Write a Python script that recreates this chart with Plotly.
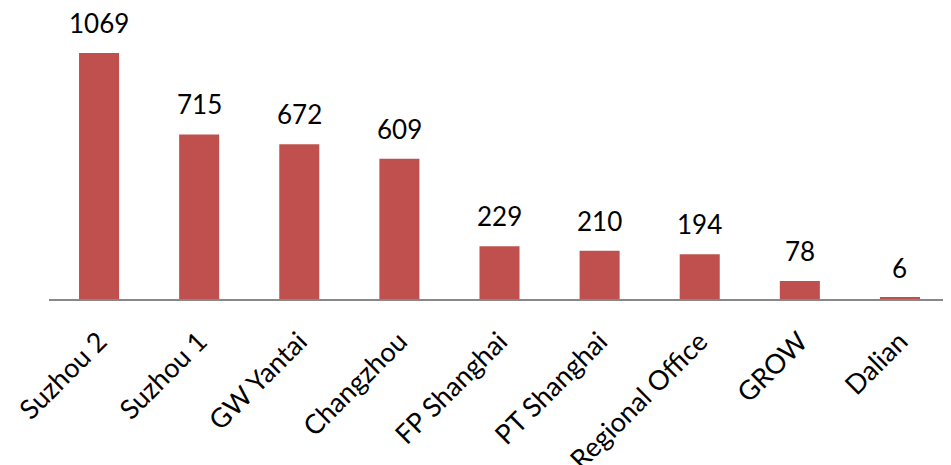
import plotly.graph_objects as go

categories = ["Suzhou 2", "Suzhou 1", "GW Yantai", "Changzhou", "FP Shanghai",
              "PT Shanghai", "Regional Office", "GROW", "Dalian"]
values = [1069, 715, 672, 609, 229, 210, 194, 78, 6]

FONT = "Lato"
fig = go.Figure()
fig.add_trace(go.Bar(x=categories, y=values, marker_color="#C0504D",
                     marker_line_width=0, width=0.4, hoverinfo="x+y"))
for c, v in zip(categories, values):
    fig.add_annotation(x=c, y=v, text=str(v), showarrow=False, yshift=30,
                       font=dict(family=FONT, size=26, color="black"))

# page body has an 8px default margin; figure is sized to compensate
fig.update_layout(
    width=943, height=457,
    margin=dict(l=41, r=1, t=0, b=166),
    paper_bgcolor="white", plot_bgcolor="white",
    showlegend=False,
    xaxis=dict(showline=True, linecolor="#888888", linewidth=2, tickangle=-45,
               tickfont=dict(family=FONT, size=27, color="black"), ticks="",
               ticklabelstandoff=14, automargin=False, layer="above traces"),
    yaxis=dict(range=[0, 1264.6], visible=False, showgrid=False, automargin=False),
)
fig.write_html("out.html")
